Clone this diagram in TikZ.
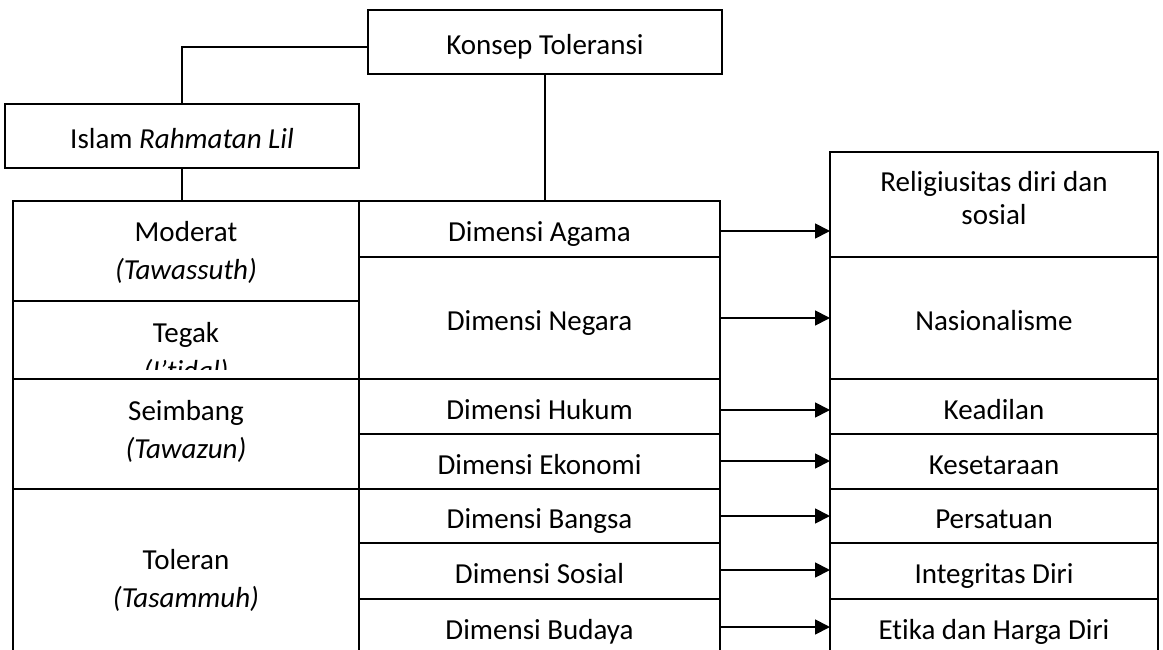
\documentclass[tikz,border=0pt]{standalone}
\usepackage{fontspec}
\setmainfont{Carlito}[Ligatures=NoCommon]
\usetikzlibrary{arrows.meta}
% line strut that keeps every label on the same optical centre
\newcommand{\cellstrut}{\rule[-6.4pt]{0pt}{38pt}}
% extra depth below the last line, lifts a two-line label
\newcommand{\liftby}[1]{\rule[-#1]{0pt}{0pt}}
\begin{document}
\begin{tikzpicture}[x=1pt,y=-1pt,
  txt/.style={inner sep=0pt, outer sep=0pt, align=center,
    font=\fontsize{29}{38}\selectfont,
    execute at begin node=\cellstrut, execute at end node=\cellstrut},
  box/.style={txt, draw, line width=1.8pt, rectangle, anchor=north west},
  link/.style={line width=1.8pt},
  arr/.style={line width=1.8pt, -{Triangle[length=15pt,width=15pt]}},
]
% page frame
\clip (0,0) rectangle (1163,650);
\fill[white] (0,0) rectangle (1163,650);

% top level
\node[box, minimum width=354pt, minimum height=64pt] (konsep) at (368,10) {Konsep Toleransi};
\node[box, minimum width=354pt, minimum height=64pt] (islam) at (5,104) {Islam \textit{Rahmatan Lil}};

% left column: principles
\node[box, minimum width=346pt, minimum height=100pt] (moderat) at (13,201) {\cellstrut Moderat\\\textit{(Tawassuth)}\cellstrut\liftby{12.4pt}};
\node[box, minimum width=346pt, minimum height=78pt] (tegak) at (13,301) {};
\begin{scope}
  \clip (13,301) rectangle (359,369);
  \node[txt] (tegaktxt) at (186,349) {\cellstrut Tegak\\\textit{(I’tidal)}\cellstrut};
\end{scope}
\node[box, minimum width=346pt, minimum height=110pt] (seimbang) at (13,379) {\cellstrut Seimbang\\\textit{(Tawazun)}\cellstrut\liftby{20.4pt}};
\node[box, minimum width=346pt, minimum height=177pt] (toleran) at (13,489) {\cellstrut Toleran\\\textit{(Tasammuh)}\cellstrut\liftby{10.4pt}};

% middle column: dimensions
\node[box, minimum width=361pt, minimum height=56pt] (agama) at (359,201) {Dimensi Agama};
\node[box, minimum width=361pt, minimum height=122pt] (negara) at (359,257) {Dimensi Negara};
\node[box, minimum width=361pt, minimum height=55pt] (hukum) at (359,379) {Dimensi Hukum};
\node[box, minimum width=361pt, minimum height=55pt] (ekonomi) at (359,434) {Dimensi Ekonomi};
\node[box, minimum width=361pt, minimum height=54pt] (bangsa) at (359,489) {Dimensi Bangsa};
\node[box, minimum width=361pt, minimum height=56pt] (sosial) at (359,543) {Dimensi Sosial};
\node[box, minimum width=361pt, minimum height=56pt] (budaya) at (359,599) {Dimensi Budaya};

% right column: values
\node[box, minimum width=328pt, minimum height=105pt, font=\fontsize{29}{33}\selectfont,
  execute at begin node={}, execute at end node={}] (rel) at (830,152)
  {\rule{0pt}{26pt}Religiusitas diri dan\\sosial\rule[-18pt]{0pt}{0pt}};
\node[box, minimum width=328pt, minimum height=122pt] (nas) at (830,257) {Nasionalisme};
\node[box, minimum width=328pt, minimum height=55pt] (keadilan) at (830,379) {Keadilan};
\node[box, minimum width=328pt, minimum height=55pt] (kesetaraan) at (830,434) {Kesetaraan};
\node[box, minimum width=328pt, minimum height=54pt] (persatuan) at (830,489) {Persatuan};
\node[box, minimum width=328pt, minimum height=56pt] (integritas) at (830,543) {Integritas Diri};
\node[box, minimum width=328pt, minimum height=56pt] (etika) at (830,599) {Etika dan Harga Diri};

% tree links
\draw[link] ([yshift=-5pt]konsep.west) -| (islam.north);
\draw[link] (islam.south) -- (islam.south |- moderat.north);
\draw[link] (konsep.south) -- (konsep.south |- agama.north);

% dimension -> value arrows
\draw[arr] ([yshift=-2pt]agama.east) -- ([yshift=-2pt]agama.east -| rel.west);
\draw[arr] (negara.east) -- (negara.east -| nas.west);
\draw[arr] ([yshift=-3.5pt]hukum.east) -- ([yshift=-3.5pt]hukum.east -| keadilan.west);
\draw[arr] ([yshift=0.5pt]ekonomi.east) -- ([yshift=0.5pt]ekonomi.east -| kesetaraan.west);
\draw[arr] (bangsa.east) -- (bangsa.east -| persatuan.west);
\draw[arr] ([yshift=1pt]sosial.east) -- ([yshift=1pt]sosial.east -| integritas.west);
\draw[arr] (budaya.east) -- (budaya.east -| etika.west);
\end{tikzpicture}
\end{document}
